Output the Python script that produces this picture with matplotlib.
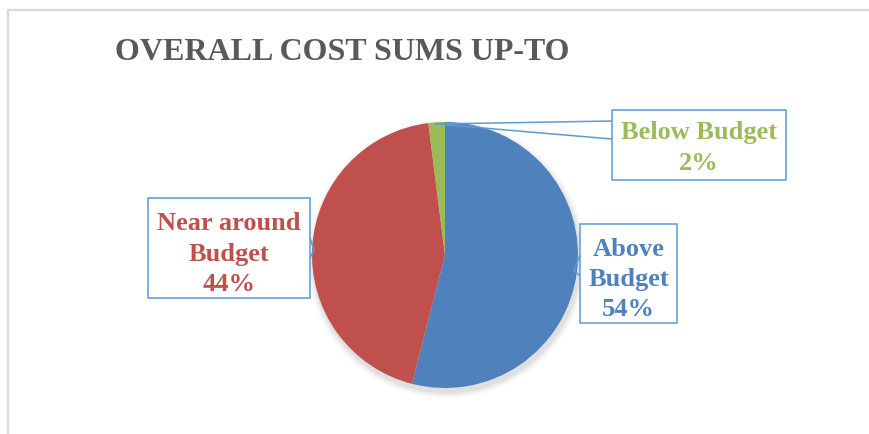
import matplotlib
matplotlib.use("Agg")
import matplotlib.pyplot as plt
from matplotlib.patches import Rectangle, Circle
import numpy as np

categories = ["Above\nBudget", "Near around\nBudget", "Below Budget"]
shares = [54, 44, 2]
colors = ["#4F81BD", "#C0504D", "#9BBB59"]
title = "OVERALL COST SUMS UP-TO"

W, H = 869, 434
fig = plt.figure(figsize=(W / 100, H / 100), dpi=100)
ax = fig.add_axes([0, 0, 1, 1])


def Y(y):
    return H - y


# chart frame
ax.plot([8, 8, W + 5], [-5, Y(10), Y(10)], color="#d9d9d9", lw=1.6, zorder=0)

cx, cy, r = 445, Y(255), 133

# soft shadow under the pie
for i, a in enumerate(np.linspace(0.05, 0.012, 8)):
    ax.add_patch(Circle((cx + 1.5, cy - 4), r + 1 + i * 0.9, color="black",
                        alpha=a * 0.5, lw=0, zorder=1))

ax.pie(shares, colors=colors, startangle=90, counterclock=False,
       center=(cx, cy), radius=r, frame=True,
       wedgeprops=dict(linewidth=0, zorder=2))
ax.set_xlim(0, W)
ax.set_ylim(0, H)
ax.set_aspect("equal")
ax.axis("off")

ax.text(115, Y(52), title, fontfamily="Liberation Serif", fontweight="bold",
        fontsize=23, color="#595959", ha="left", va="center")

edge = "#5B9BD5"


def callout(box, tip, base_pts, text, color, dy=0):
    x0, y0, x1, y1 = box
    for bx, by in base_pts:
        ax.plot([tip[0], bx], [Y(tip[1]), Y(by)], color=edge, lw=1.1, zorder=4)
    ax.add_patch(Rectangle((x0, Y(y1)), x1 - x0, y1 - y0, facecolor="white",
                           edgecolor=edge, lw=1.1, zorder=5))
    ax.text((x0 + x1) / 2, Y((y0 + y1) / 2 + dy), text, fontfamily="Liberation Serif",
            fontweight="bold", fontsize=19, color=color, ha="center",
            va="center", linespacing=1.4, zorder=6)


labels = [f"{c}\n{v}%" for c, v in zip(categories, shares)]

callout((580, 224, 677, 323), (574, 270), [(580, 255), (580, 276)], labels[0], colors[0], dy=6)
callout((148, 198, 310, 298), (314, 250), [(310, 238), (310, 258)], labels[1], colors[1], dy=6)
callout((612, 110, 786, 180), (436, 124), [(612, 121), (612, 139)], labels[2], colors[2], dy=3)

fig.savefig("out.png", dpi=100)
